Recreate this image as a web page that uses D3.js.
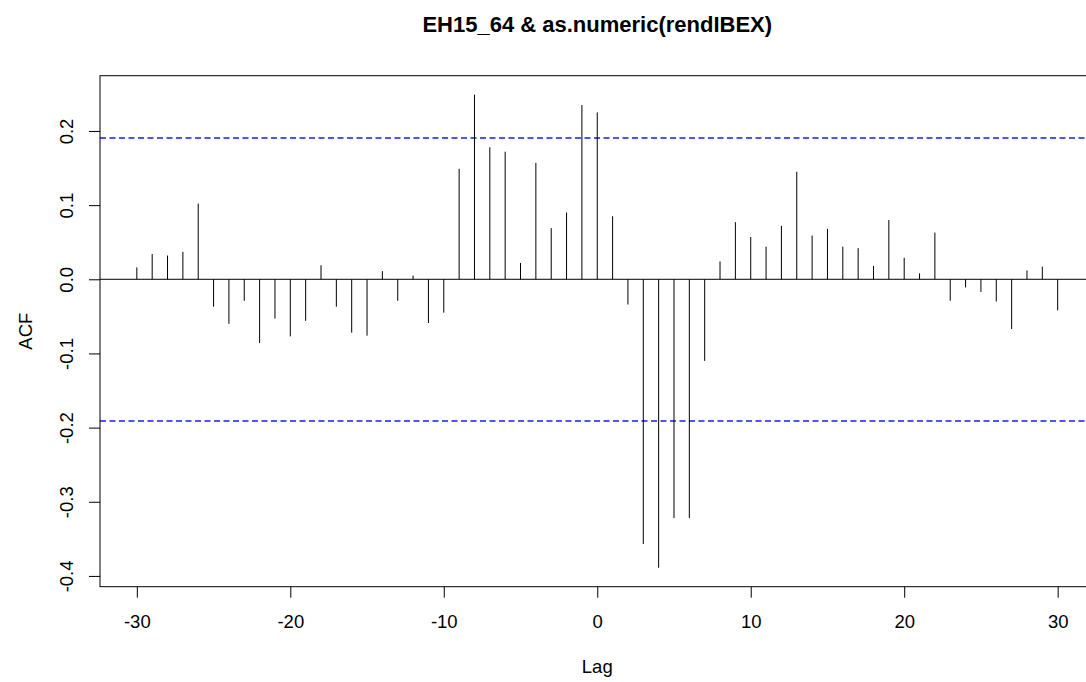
<!DOCTYPE html>
<html>
<head>
<meta charset="utf-8">
<script src="https://cdn.jsdelivr.net/npm/d3@7"></script>
<style>
  body { margin: 0; background: #fff; }
  text { font-family: "Liberation Sans", Arial, sans-serif; fill: #000; }
</style>
</head>
<body>
<div id="ccf"></div>
<script>
// lags -30..30 and the cross-correlation
var lags = d3.range(-30, 31);
var acfValues = [
    0.016, 0.034, 0.032, 0.037, 0.102, -0.037, -0.060, -0.029, -0.086, -0.053,
    -0.077, -0.056, 0.019, -0.037, -0.072, -0.076, 0.011, -0.029, 0.005, -0.059,
    -0.045, 0.149, 0.249, 0.178, 0.172, 0.022, 0.157, 0.069, 0.090, 0.235,
    0.225, 0.085, -0.034, -0.357, -0.389, -0.322, -0.322, -0.110, 0.024, 0.077,
    0.057, 0.044, 0.072, 0.145, 0.059, 0.068, 0.044, 0.042, 0.018, 0.080,
    0.029, 0.008, 0.063, -0.029, -0.011, -0.017, -0.030, -0.067, 0.012, 0.017,
    -0.042
];
var ciLimit = 0.191;
var xTicks = [-30, -20, -10, 0, 10, 20, 30];
var yTicks = [-0.4, -0.3, -0.2, -0.1, 0.0, 0.1, 0.2];
var title = "EH15_64 & as.numeric(rendIBEX)";

function padRange(lo, hi) {
    // R style: stretch the range by 4% on each side
    var p = (hi - lo) * 0.04;
    return [lo - p, hi + p];
}

function makeCcf() {
    var width = 1086, height = 682;
    var margin = {top: 75.7, bottom: 95.3, left: 100, right: -8.5};
    var plotW = width - margin.left - margin.right;
    var plotH = height - margin.top - margin.bottom;

    var svg = d3.select("#ccf").append("svg")
        .attr("width", width)
        .attr("height", height);

    var data = lags.map(function(l, i) { return {lag: l, value: acfValues[i]}; });

    var x = d3.scaleLinear()
        .domain(padRange(d3.min(lags), d3.max(lags)))
        .range([margin.left, margin.left + plotW]);

    var yMin = Math.min(d3.min(acfValues), -ciLimit);
    var yMax = Math.max(d3.max(acfValues), ciLimit);
    var y = d3.scaleLinear()
        .domain(padRange(yMin, yMax))
        .range([margin.top + plotH, margin.top]);

    // confidence band lines (snapped so both render the same)
    svg.selectAll(".ci").data([ciLimit, -ciLimit])
        .enter().append("line")
        .attr("class", "ci")
        .attr("x1", margin.left)
        .attr("x2", margin.left + plotW)
        .attr("y1", function(d) { return Math.round(y(d)); })
        .attr("y2", function(d) { return Math.round(y(d)); })
        .style("stroke", "#1a1aff")
        .style("stroke-width", 1.4)
        .style("stroke-dasharray", "6,3.5");

    // zero line
    svg.append("line")
        .attr("x1", margin.left)
        .attr("x2", margin.left + plotW)
        .attr("y1", y(0))
        .attr("y2", y(0))
        .style("stroke", "#000")
        .style("stroke-width", 1);

    // spikes
    svg.selectAll(".spike").data(data)
        .enter().append("line")
        .attr("class", "spike")
        .attr("x1", function(d) { return x(d.lag); })
        .attr("x2", function(d) { return x(d.lag); })
        .attr("y1", y(0))
        .attr("y2", function(d) { return y(d.value); })
        .style("stroke", "#000")
        .style("stroke-width", 1);

    // box round the plot
    svg.append("rect")
        .attr("x", margin.left)
        .attr("y", margin.top)
        .attr("width", plotW)
        .attr("height", plotH)
        .style("fill", "none")
        .style("stroke", "#000")
        .style("stroke-width", 1);

    var xAxis = d3.axisBottom(x).tickValues(xTicks).tickSize(11).tickPadding(17);
    var gx = svg.append("g")
        .attr("transform", "translate(0," + (margin.top + plotH) + ")")
        .call(xAxis);
    gx.select(".domain").remove();
    gx.selectAll("text")
        .style("font-size", "18.5px")
        .text(function(d) { return String(d); });

    var yAxis = d3.axisLeft(y).tickValues(yTicks).tickSize(11);
    var gy = svg.append("g")
        .attr("transform", "translate(" + margin.left + ",0)")
        .call(yAxis);
    gy.select(".domain").remove();
    gy.selectAll("text")
        .attr("x", null)
        .attr("dy", null)
        .attr("text-anchor", "middle")
        .attr("transform", "translate(-27.5,0) rotate(-90)")
        .style("font-size", "18.5px")
        .text(function(d) { return d.toFixed(1); });
    svg.selectAll(".tick line").style("stroke", "#000");

    svg.append("text")
        .attr("x", margin.left + plotW / 2)
        .attr("y", 31.7)
        .attr("text-anchor", "middle")
        .style("font-size", "22px")
        .style("font-weight", "bold")
        .text(title);

    svg.append("text")
        .attr("x", margin.left + plotW / 2)
        .attr("y", 673)
        .attr("text-anchor", "middle")
        .style("font-size", "18.5px")
        .text("Lag");

    svg.append("text")
        .attr("transform", "translate(31.7," + (margin.top + plotH / 2) + ") rotate(-90)")
        .attr("text-anchor", "middle")
        .style("font-size", "18.5px")
        .text("ACF");
}

makeCcf();
</script>
</body>
</html>
